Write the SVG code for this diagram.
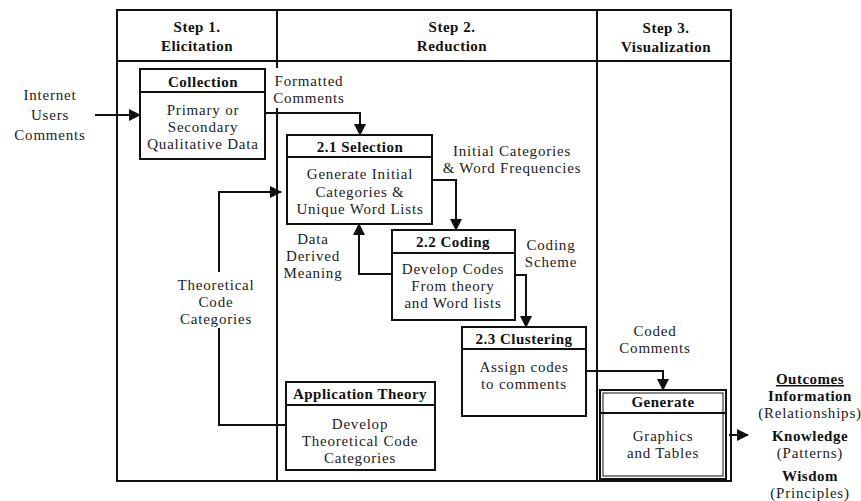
<svg xmlns="http://www.w3.org/2000/svg" width="861" height="501" viewBox="0 0 861 501" font-family="Liberation Serif, Times New Roman, serif">
<defs>
<marker id="ah" markerUnits="userSpaceOnUse" markerWidth="12" markerHeight="12" viewBox="0 0 12 12" refX="11" refY="6" orient="auto">
<path d="M0,0 L12,6 L0,12 z" fill="#111"/>
</marker>
</defs>
<style>
text{font-size:15px;letter-spacing:0.8px;fill:#222;text-anchor:middle}
.b{font-weight:bold;fill:#111;letter-spacing:0.5px}
.box{fill:#fff;stroke:#111;stroke-width:2}
.ln{fill:none;stroke:#111;stroke-width:2}
.con{fill:none;stroke:#111;stroke-width:2}
</style>
<rect width="861" height="501" fill="#fff"/>
<g id="frame">
<rect x="117" y="10" width="614" height="471" class="ln"/>
<line x1="117" y1="61" x2="731" y2="61" class="ln"/>
<line x1="277" y1="10" x2="277" y2="481" class="ln"/>
<line x1="597" y1="10" x2="597" y2="481" class="ln"/>
</g>
<g id="step1-header"><text x="197" y="32" class="b">Step 1.</text><text x="197" y="51" class="b">Elicitation</text></g>
<g id="step2-header"><text x="452" y="32" class="b">Step 2.</text><text x="452" y="51" class="b">Reduction</text></g>
<g id="step3-header"><text x="666" y="33" class="b">Step 3.</text><text x="666" y="52" class="b">Visualization</text></g>
<g id="connectors">
<path d="M95,115 H140" class="con" marker-end="url(#ah)"/>
<path d="M265,113 H360 V135" class="con" marker-end="url(#ah)"/>
<path d="M432,180 H456 V230" class="con" marker-end="url(#ah)"/>
<path d="M392,274 H359 V224" class="con" marker-end="url(#ah)"/>
<path d="M515,275 H526 V327" class="con" marker-end="url(#ah)"/>
<path d="M586,371 H663 V390" class="con" marker-end="url(#ah)"/>
<path d="M729,435 H748" class="con" marker-end="url(#ah)"/>
<path d="M286,425 H219 V192 H281" class="con" marker-end="url(#ah)"/>
</g>
<g id="label-internet"><text x="50" y="100">Internet</text><text x="50" y="120">Users</text><text x="50" y="140">Comments</text></g>
<g id="label-formatted"><rect x="271" y="68" width="78" height="40" fill="#fff"/><text x="309" y="86">Formatted</text><text x="309" y="103">Comments</text></g>
<g id="label-initial"><text x="512" y="156">Initial Categories</text><text x="512" y="173">&amp; Word Frequencies</text></g>
<g id="label-coding-scheme"><text x="551" y="250">Coding</text><text x="551" y="267">Scheme</text></g>
<g id="label-data-derived"><text x="313" y="244">Data</text><text x="313" y="261">Derived</text><text x="313" y="278">Meaning</text></g>
<g id="label-coded"><text x="655" y="336">Coded</text><text x="655" y="353">Comments</text></g>
<g id="label-theoretical"><rect x="176" y="272" width="84" height="56" fill="#fff"/><text x="216" y="290">Theoretical</text><text x="216" y="307">Code</text><text x="216" y="324">Categories</text></g>
<g id="collection">
<rect x="140" y="69" width="125" height="90" class="box"/>
<line x1="140" y1="92" x2="265" y2="92" class="ln"/>
<text x="203" y="87" class="b">Collection</text>
<text x="203" y="115">Primary or</text><text x="203" y="132">Secondary</text><text x="203" y="149">Qualitative Data</text>
</g>
<g id="selection">
<rect x="287" y="135" width="145" height="89" class="box"/>
<line x1="287" y1="157" x2="432" y2="157" class="ln"/>
<text x="360" y="152" class="b">2.1 Selection</text>
<text x="360" y="179">Generate Initial</text><text x="360" y="197">Categories &amp;</text><text x="360" y="214">Unique Word Lists</text>
</g>
<g id="coding">
<rect x="392" y="230" width="123" height="90" class="box"/>
<line x1="392" y1="253" x2="515" y2="253" class="ln"/>
<text x="453" y="247" class="b">2.2 Coding</text>
<text x="453" y="274">Develop Codes</text><text x="453" y="291">From theory</text><text x="453" y="308">and Word lists</text>
</g>
<g id="clustering">
<rect x="462" y="327" width="124" height="89" class="box"/>
<line x1="462" y1="349" x2="586" y2="349" class="ln"/>
<text x="524" y="344" class="b">2.3 Clustering</text>
<text x="524" y="372">Assign codes</text><text x="524" y="389">to comments</text>
</g>
<g id="application-theory">
<rect x="286" y="382" width="149" height="88" class="box"/>
<line x1="286" y1="405" x2="435" y2="405" class="ln"/>
<text x="360" y="399" class="b">Application Theory</text>
<text x="360" y="429">Develop</text><text x="360" y="446">Theoretical Code</text><text x="360" y="463">Categories</text>
</g>
<g id="generate">
<rect x="600" y="390" width="126" height="89" class="box"/>
<rect x="603" y="393" width="120" height="83" fill="none" stroke="#111" stroke-width="1"/>
<line x1="600" y1="413" x2="726" y2="413" class="ln"/>
<text x="663" y="407" class="b">Generate</text>
<text x="663" y="441">Graphics</text><text x="663" y="458">and Tables</text>
</g>
<g id="outcomes">
<text x="810" y="384" class="b" text-decoration="underline">Outcomes</text>
<text x="810" y="401" class="b">Information</text>
<text x="810" y="418">(Relationships)</text>
<text x="810" y="441" class="b">Knowledge</text>
<text x="810" y="458">(Patterns)</text>
<text x="810" y="481" class="b">Wisdom</text>
<text x="810" y="498">(Principles)</text>
</g>
</svg>
